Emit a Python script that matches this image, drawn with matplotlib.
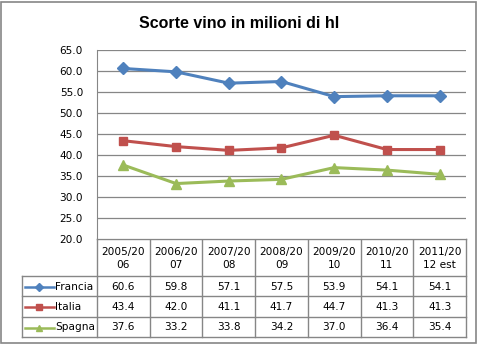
import matplotlib.pyplot as plt
from matplotlib.patches import Rectangle

categories = ["2005/20\n06", "2006/20\n07", "2007/20\n08", "2008/20\n09",
              "2009/20\n10", "2010/20\n11", "2011/20\n12 est"]
francia = [60.6, 59.8, 57.1, 57.5, 53.9, 54.1, 54.1]
italia = [43.4, 42.0, 41.1, 41.7, 44.7, 41.3, 41.3]
spagna = [37.6, 33.2, 33.8, 34.2, 37.0, 36.4, 35.4]
series = [("Francia", francia, "#4F81BD", "D", 6),
          ("Italia", italia, "#C0504D", "s", 6),
          ("Spagna", spagna, "#9BBB59", "^", 7)]
yticks = [20, 25, 30, 35, 40, 45, 50, 55, 60, 65]

W, H = 481, 345
fig = plt.figure(figsize=(W / 100, H / 100), dpi=100)
fnt = "DejaVu Sans"
fs = 7.6

# plot area in pixels
x0, x1, ytop, ybot = 97, 466, 50, 239
ax = fig.add_axes([x0 / W, 1 - ybot / H, (x1 - x0) / W, (ybot - ytop) / H])
n = len(categories)
for name, vals, col, mk, ms in series:
    ax.plot(range(n), vals, color=col, lw=2.2, marker=mk, ms=ms, zorder=3)
ax.set_xlim(-0.5, n - 0.5)
ax.set_ylim(20, 65)
ax.set_yticks(yticks)
ax.set_yticklabels([f"{v:.1f}" for v in yticks], fontsize=fs, family=fnt)
ax.tick_params(axis="y", length=0, pad=10)
ax.set_xticks([])
ax.grid(axis="y", color="#868686", lw=0.9)
ax.set_axisbelow(True)
for s in ["top", "right", "bottom"]:
    ax.spines[s].set_visible(False)
ax.spines["left"].set_color("#868686")

# overlay in pixel coordinates
ov = fig.add_axes([0, 0, 1, 1], zorder=-1)
ov.set_xlim(0, W)
ov.set_ylim(H, 0)
ov.axis("off")
ov.add_patch(Rectangle((0.8, 1.8), 475.5, 341, fill=False, ec="#868686", lw=1.2))
ov.text(239, 23, "Scorte vino in milioni di hl", ha="center", va="center",
        fontsize=11.5, fontweight="bold", family="Liberation Sans")

lc = "#868686"
cw = (x1 - x0) / n
rows = [239, 276, 296, 317, 337]
lx = 22
for k in range(n + 1):
    ov.plot([x0 + k * cw] * 2, [rows[0], rows[-1]], color=lc, lw=1)
ov.plot([lx, lx], [rows[1], rows[-1]], color=lc, lw=1)
ov.plot([x0, x1], [rows[0]] * 2, color=lc, lw=1)
for r in rows[1:]:
    ov.plot([lx, x1], [r, r], color=lc, lw=1)

for k, c in enumerate(categories):
    ov.text(x0 + (k + 0.5) * cw, (rows[0] + rows[1]) / 2 + 1, c, ha="center",
            va="center", fontsize=fs, family=fnt, linespacing=1.45)
for i, (name, vals, col, mk, ms) in enumerate(series):
    yc = (rows[i + 1] + rows[i + 2]) / 2 + 0.5
    ov.plot([25, 54], [yc, yc], color=col, lw=1.8)
    ov.plot([39.5], [yc], color=col, marker=mk, ms=ms - 2)
    ov.text(55, yc, name, ha="left", va="center", fontsize=fs, family=fnt)
    for k, v in enumerate(vals):
        ov.text(x0 + (k + 0.5) * cw, yc, f"{v:.1f}", ha="center", va="center",
                fontsize=fs, family=fnt)

fig.savefig("out.png", dpi=100)
